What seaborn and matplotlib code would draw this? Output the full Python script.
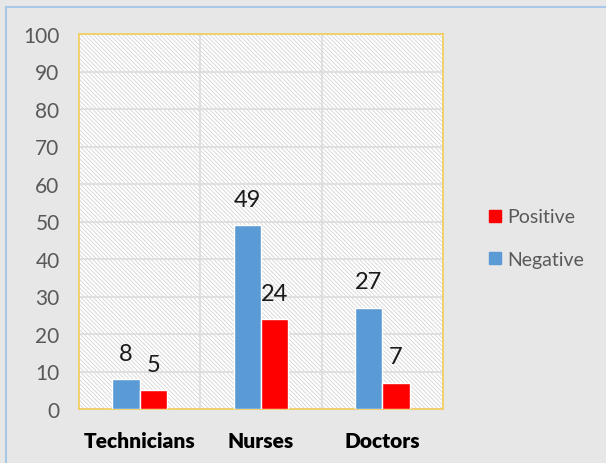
import matplotlib
matplotlib.use('Agg')
import matplotlib.pyplot as plt
from matplotlib.patches import Rectangle
from matplotlib.lines import Line2D
import pandas as pd
import seaborn as sns

# chart data
categories = ['Technicians', 'Nurses', 'Doctors']
negative = [8, 49, 27]
positive = [5, 24, 7]
y_ticks = list(range(0, 101, 10))

df = pd.DataFrame({
    'group': categories * 2,
    'result': ['Negative'] * 3 + ['Positive'] * 3,
    'count': negative + positive,
})

sns.set_style('white')
plt.rcParams['font.family'] = ['Lato', 'DejaVu Sans']
plt.rcParams['hatch.linewidth'] = 0.6

W, H = 606, 464
fig = plt.figure(figsize=(W / 100, H / 100), dpi=100)
fig.patch.set_facecolor('#e7e7e7')

# light blue frame on left/top edge
fig.add_artist(Rectangle((6 / W, -0.05), 1.2, 1.05 - 8 / H,
                         transform=fig.transFigure, facecolor='none',
                         edgecolor='#a9c8e8', lw=1.5, zorder=0))

ax = fig.add_axes([79 / W, 54 / H, (443 - 79) / W, (410 - 35) / H])
ax.set_facecolor('white')

# hatched plot area background
ax.add_patch(Rectangle((0, 0), 1, 1, transform=ax.transAxes, facecolor='white',
                       edgecolor='#d4d4d4', hatch='\\' * 8, lw=0, zorder=0))

colors = {'Negative': '#5b9bd5', 'Positive': '#ff0000'}
sns.barplot(data=df, x='group', y='count', hue='result', order=categories,
            hue_order=['Negative', 'Positive'], palette=colors, width=0.45,
            gap=0, saturation=1, legend=False, ax=ax, zorder=3)

for cont in ax.containers:
    for bar in cont:
        h = bar.get_height()
        ax.annotate(f'{h:.0f}', (bar.get_x() + bar.get_width() / 2, h),
                    xytext=(0, 11), textcoords='offset points', ha='center',
                    va='bottom', fontsize=17, color='#1a1a1a')

ax.set_ylim(0, 100)
ax.set_xlim(-0.5, 2.5)
ax.set_yticks(y_ticks)
ax.yaxis.grid(True, color='#dcdcdc', lw=1.2, zorder=1)
for xv in [0.5, 1.5]:
    ax.axvline(xv, color='#dcdcdc', lw=1.2, zorder=1)
ax.set_axisbelow(True)

ax.set_xticks([-0.5, 0.5, 1.5, 2.5], minor=True)
ax.tick_params(axis='x', which='minor', length=6, color='#d9d9d9', width=1.2, direction='out')
ax.tick_params(axis='x', which='major', length=0, pad=16, labelsize=15, labelcolor='black')
ax.tick_params(axis='y', length=0, pad=14, labelsize=15, labelcolor='#595959')
for lab in ax.get_xticklabels():
    lab.set_fontweight('heavy')
ax.set_xlabel('')
ax.set_ylabel('')

for side in ['top', 'bottom', 'left', 'right']:
    ax.spines[side].set_visible(True)
    ax.spines[side].set_color('#f3cc5a')
    ax.spines[side].set_linewidth(1.2)

handles = [Line2D([], [], marker='s', ls='', color='#ff0000', markersize=9),
           Line2D([], [], marker='s', ls='', color='#5b9bd5', markersize=9)]
leg = fig.legend(handles, ['Positive', 'Negative'], loc='center left',
                 bbox_to_anchor=(468 / W, 1 - 239 / H), frameon=False,
                 fontsize=14, labelspacing=1.3, handletextpad=0.1, handlelength=1.0)
for t in leg.get_texts():
    t.set_color('#595959')

fig.savefig('out.png', dpi=100, facecolor=fig.get_facecolor())
